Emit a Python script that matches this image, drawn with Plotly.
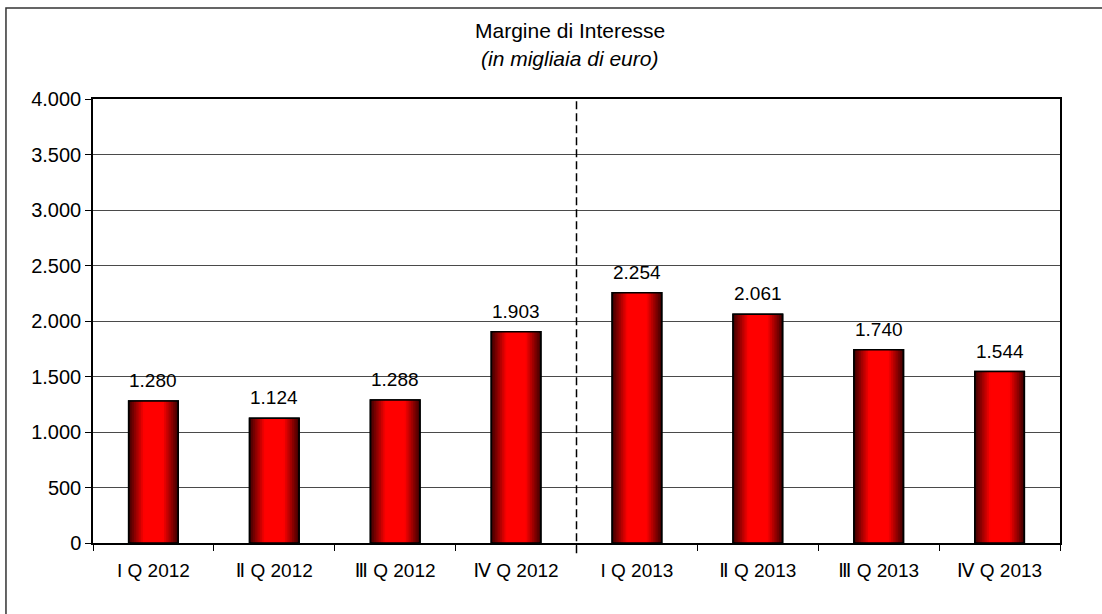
import plotly.graph_objects as go

categories = ["I Q 2012", "Ⅱ Q 2012", "Ⅲ Q 2012", "Ⅳ Q 2012",
              "I Q 2013", "Ⅱ Q 2013", "Ⅲ Q 2013", "Ⅳ Q 2013"]
values = [1280, 1124, 1288, 1903, 2254, 2061, 1740, 1544]
value_labels = ["1.280", "1.124", "1.288", "1.903", "2.254", "2.061", "1.740", "1.544"]
title_main = "Margine di Interesse"
title_sub = "(in migliaia di euro)"

FONT = "Liberation Sans, Arial, DejaVu Sans, sans-serif"

fig = go.Figure()

# gradient bars built from overlaid bars of decreasing width
N = 14
full_w = 0.41
dark = (70, 0, 0)
bright = (255, 0, 0)
for k in range(N):
    t = k / (N - 1)
    tt = min(1.0, t * 1.6)
    c = tuple(int(dark[i] + (bright[i] - dark[i]) * tt) for i in range(3))
    w = full_w * (1 - k / N)
    fig.add_trace(go.Bar(
        x=categories, y=values, width=w,
        marker=dict(color="rgb(%d,%d,%d)" % c,
                    line=dict(color="black", width=1.5 if k == 0 else 0)),
        showlegend=False, hoverinfo="skip" if k else "y",
    ))

# outline on top
fig.add_trace(go.Bar(
    x=categories, y=values, width=full_w,
    marker=dict(color="rgba(0,0,0,0)", line=dict(color="black", width=1.5)),
    showlegend=False, hoverinfo="skip",
))

for c, v, lab in zip(categories, values, value_labels):
    fig.add_annotation(x=c, y=v, text=lab, showarrow=False, yanchor="bottom",
                       yshift=8, font=dict(size=19, color="black", family=FONT))

fig.add_annotation(xref="paper", yref="paper", x=0.493, y=1.155, text=title_main,
                   showarrow=False, yanchor="middle",
                   font=dict(size=21, color="black", family=FONT))
fig.add_annotation(xref="paper", yref="paper", x=0.493, y=1.092,
                   text="<i>" + title_sub + "</i>", showarrow=False, yanchor="middle",
                   font=dict(size=21, color="black", family=FONT))

# dashed separator between years
fig.add_shape(type="line", xref="x", yref="paper", x0=3.5, x1=3.5, y0=-0.023, y1=1,
              line=dict(color="black", width=1.5, dash="8px,4px"))

# outer chart border
fig.add_shape(type="rect", xref="paper", yref="paper",
              x0=-0.09, x1=1.2, y0=-0.3, y1=1.205,
              line=dict(color="#333333", width=1.5), layer="below")

fig.update_layout(
    width=1102, height=614,
    margin=dict(l=93, r=42, t=99, b=71),
    paper_bgcolor="white", plot_bgcolor="white",
    barmode="overlay",
    separators=",.",
    font=dict(family=FONT, size=19, color="black"),
    xaxis=dict(
        type="category", showline=True, linecolor="black", linewidth=1.5,
        mirror=True, ticks="outside", tickson="boundaries", ticklen=6,
        tickcolor="black", tickwidth=1, showgrid=False,
        tickfont=dict(size=19, family=FONT), ticklabelstandoff=9,
    ),
    yaxis=dict(
        range=[0, 4000], dtick=500, tickformat=",d",
        showline=True, linecolor="black", linewidth=1.5, mirror=True,
        ticks="outside", ticklen=6, tickcolor="black", tickwidth=1,
        showgrid=True, gridcolor="#4a4a4a", gridwidth=1, zeroline=False,
        tickfont=dict(size=20, family=FONT),
    ),
)

fig.write_html("out.html")
